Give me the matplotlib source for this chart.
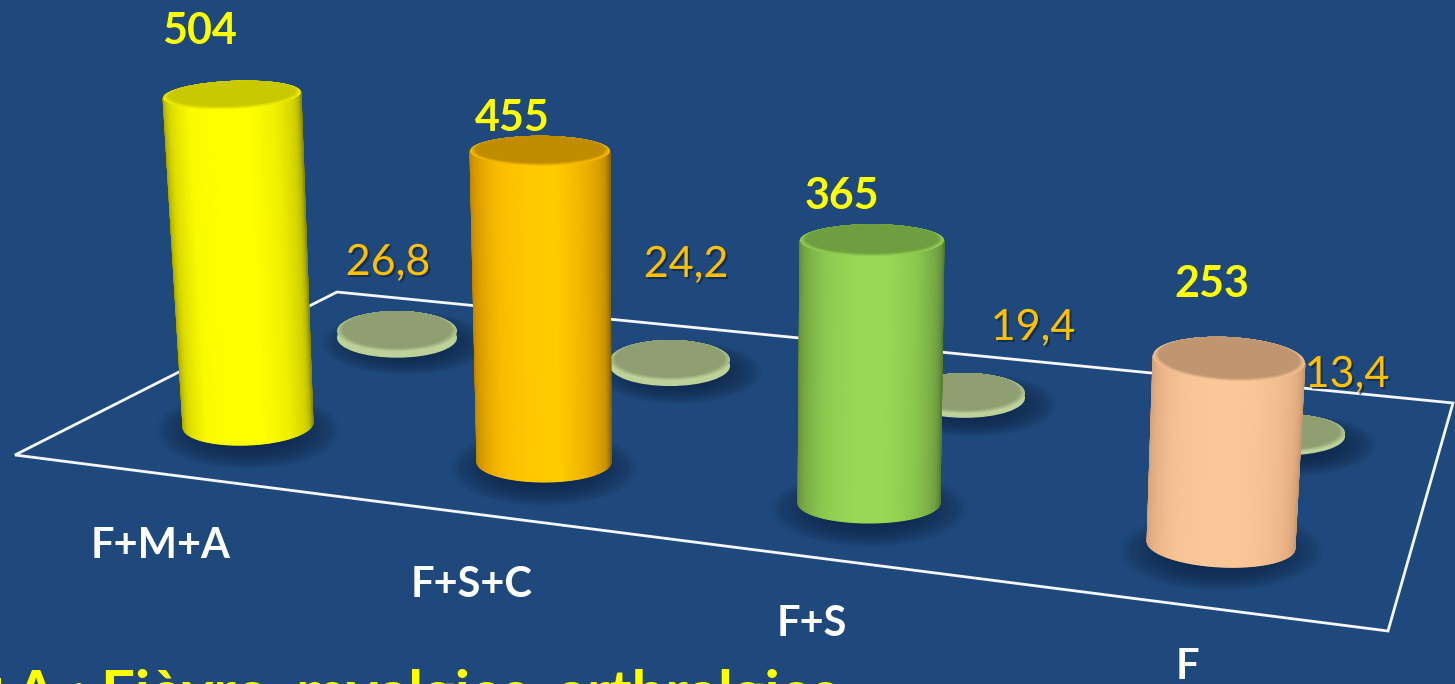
import matplotlib
matplotlib.use('Agg')
import matplotlib.pyplot as plt
import matplotlib.patheffects as pe
from matplotlib.colors import LinearSegmentedColormap, to_rgb
from matplotlib.patches import Ellipse, Polygon
import numpy as np

plt.rcParams['font.family'] = ['Lato', 'DejaVu Sans']

# data
categories = ['F+M+A', 'F+S+C', 'F+S', 'F']
totals = [504, 455, 365, 253]
rates = [26.8, 24.2, 19.4, 13.4]
rate_labels = ['26,8', '24,2', '19,4', '13,4']
caption = 'F+M+A : Fièvre, myalgies, arthralgies'

# layout, in pixels of the 1455x684 picture
BG = '#1f497d'
FLOOR = [(15, 455), (337, 292), (1453, 403), (1388, 631)]
base_x = [248, 544, 869, 1221]
base_y = [425, 462, 503, 545]
base_rx = [65, 67, 71, 74]
base_ry = [20, 20, 20, 22]
top_x = [232, 540, 872, 1229]
top_rx = [69, 70, 72, 76]
top_ry = [14, 15, 16, 22]
tilt = [-2.5, 0, 0, 3]
px_per_unit = [0.655, 0.684, 0.72, 0.735]

disc_x = [397, 670, 965, 1285]
disc_y = [331, 360, 393, 433]
disc_rx = [60, 60, 60, 60]
disc_ry = [20, 20, 20, 19]
DISC_SCALE = 0.25

body_colors = [
    ['#a0a000', '#dcdc00', '#fbfb00', '#ffff00', '#ffff00', '#f0f000', '#d0d000', '#8c8c00'],
    ['#b98400', '#dc9e00', '#f8bc00', '#ffc800', '#ffcc00', '#f0b400', '#d09800', '#8c6600'],
    ['#5f8c32', '#7aab45', '#8ccb50', '#98d855', '#98d855', '#8ac84e', '#76a644', '#557e2e'],
    ['#d49e76', '#e8b288', '#f8c394', '#fcc798', '#fcc798', '#f4c092', '#e6b084', '#cc9870'],
]
top_colors = ['#c9c900', '#c08c00', '#6f9e40', '#c09670']
rim_colors = ['#f2f200', '#fcc000', '#96d452', '#f8c496']

total_pos = [(200, 31), (512, 118), (842, 196), (1212, 284)]
rate_pos = [(388, 263), (686, 265), (1033, 328), (1347, 375)]
label_pos = [(161, 546), (472, 585), (812, 624), (1187, 667)]


def ellipse_arc(cx, cy, rx, ry, angle, t):
    a = np.radians(angle)
    x, y = rx * np.cos(t), ry * np.sin(t)
    return cx + x * np.cos(a) - y * np.sin(a), cy + x * np.sin(a) + y * np.cos(a)


def shadow(ax, cx, cy, rx, ry, z):
    for k in np.linspace(1.0, 0.45, 12):
        ax.add_patch(Ellipse((cx, cy), 2 * rx * k, 2 * ry * k, fc='#0e2546',
                             ec='none', alpha=0.11, zorder=z))


def top_face(ax, cx, cy, rx, ry, angle, rim, face, z):
    # soft lip: steps from the rim colour to the darker face, sliding to the back edge
    rim, face = np.array(to_rgb(rim)), np.array(to_rgb(face))
    steps = 8
    for s in range(steps + 1):
        k = s / steps
        ax.add_patch(Ellipse((cx, cy - 1.5 * k), 2 * rx - 11 * k, 2 * ry - 3 * k, angle=angle,
                             fc=tuple(rim * (1 - k) + face * k), ec='none', zorder=z + 0.01 * s))


fig = plt.figure(figsize=(14.55, 6.84), dpi=100, facecolor=BG)
ax = fig.add_axes([0, 0, 1, 1])
ax.set_xlim(0, 1455)
ax.set_ylim(684, 0)
ax.axis('off')

ax.add_patch(Polygon(FLOOR, closed=True, fill=False, ec='#f4f6f8', lw=2.0, zorder=1))

# the small discs for the rates
for i, r in enumerate(rates):
    thick = r * DISC_SCALE
    shadow(ax, disc_x[i] + 8, disc_y[i] + 12, disc_rx[i] + 24, disc_ry[i] + 12, 2)
    ax.add_patch(Ellipse((disc_x[i], disc_y[i] + thick), 2 * disc_rx[i], 2 * disc_ry[i],
                         fc='#bdd29a', ec='none', zorder=3))
    top_face(ax, disc_x[i], disc_y[i], disc_rx[i], disc_ry[i], 0, '#b4c990', '#8f9f72', 3.1)

# the cylinders for the totals
t = np.linspace(np.pi, 0, 80)
for i, v in enumerate(totals):
    z = 5 + i
    cy_top = base_y[i] - v * px_per_unit[i]
    shadow(ax, base_x[i], base_y[i] + 6, base_rx[i] + 28, base_ry[i] + 18, z)

    xb, yb = ellipse_arc(base_x[i], base_y[i], base_rx[i], base_ry[i], tilt[i], t)
    xt, yt = ellipse_arc(top_x[i], cy_top, top_rx[i], top_ry[i], tilt[i], t)
    X = np.vstack([xt, xb])
    Y = np.vstack([yt, yb])
    C = np.vstack([np.linspace(0, 1, 80)] * 2)
    cmap = LinearSegmentedColormap.from_list('body%d' % i, body_colors[i])
    ax.pcolormesh(X, Y, C, cmap=cmap, shading='gouraud', zorder=z + 0.1)

    top_face(ax, top_x[i], cy_top, top_rx[i], top_ry[i], tilt[i], rim_colors[i], top_colors[i], z + 0.2)

    ax.text(*total_pos[i], str(v), color='#ffff00', fontsize=31, fontweight='bold',
            ha='center', va='center', zorder=20)
    ax.text(*rate_pos[i], rate_labels[i], color='#ffc000', fontsize=31,
            ha='center', va='center', zorder=20,
            path_effects=[pe.withSimplePatchShadow(offset=(1.5, -1.5), shadow_rgbFace='#0e2546', alpha=0.7)])
    ax.text(*label_pos[i], categories[i], color='white', fontsize=30, fontweight='bold',
            ha='center', va='center', zorder=20)

ax.text(838, 713, caption, color='#ffff00', fontsize=43, fontweight='bold',
        ha='right', va='baseline', zorder=20, clip_on=False)

fig.savefig('out.png', dpi=100, facecolor=BG)
